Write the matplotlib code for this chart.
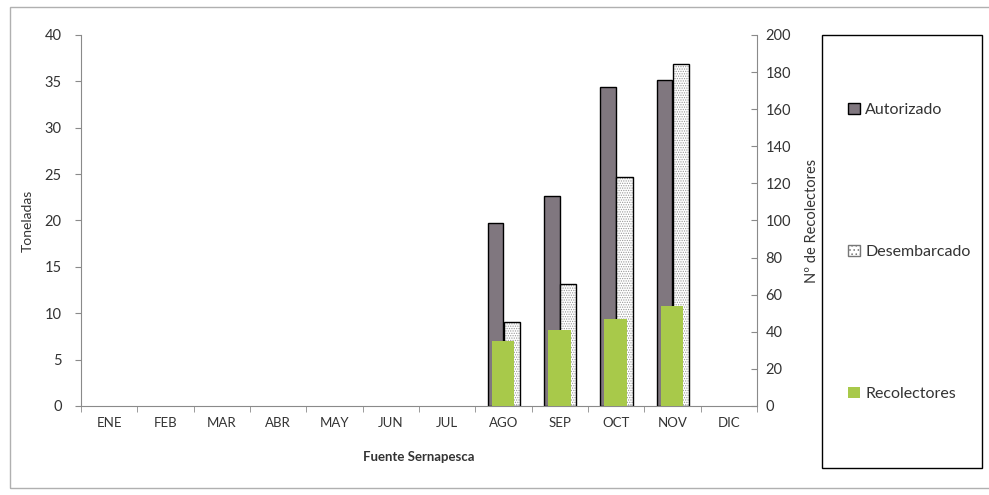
import matplotlib
matplotlib.use('Agg')
from matplotlib import pyplot as plt
from matplotlib.patches import Patch, Rectangle
import numpy as np

plt.rcParams['font.family'] = ['Lato', 'DejaVu Sans']
plt.rcParams['hatch.linewidth'] = 0.6

meses = ['ENE', 'FEB', 'MAR', 'ABR', 'MAY', 'JUN', 'JUL', 'AGO', 'SEP', 'OCT', 'NOV', 'DIC']
autorizado = [0, 0, 0, 0, 0, 0, 0, 19.7, 22.6, 34.4, 35.2, 0]
desembarcado = [0, 0, 0, 0, 0, 0, 0, 9.1, 13.2, 24.7, 36.9, 0]
recolectores = [0, 0, 0, 0, 0, 0, 0, 35, 41, 47, 54, 0]

gris = '#80777f'
verde = '#a8c94a'
eje = '#8a8a8a'
texto = '#333333'

x = np.arange(len(meses))

def sin_ceros(v):
    # excel no dibuja nada cuando el valor es 0
    v = np.array(v, dtype=float)
    return np.where(v > 0, v, np.nan)

fig = plt.figure(figsize=(9.89, 4.95), dpi=100)
ax = fig.add_axes([0.0819, 0.1798, 0.6835, 0.7495])
ax2 = ax.twinx()

# toneladas
ax.bar(x - 0.14, sin_ceros(autorizado), width=0.28, color=gris, edgecolor='black', linewidth=1.0)
ax.bar(x + 0.15, sin_ceros(desembarcado), width=0.29, color='white', edgecolor='#999999',
       hatch='.......', linewidth=0)
ax.bar(x + 0.15, sin_ceros(desembarcado), width=0.29, fill=False, edgecolor='black', linewidth=1.0)

# recolectores (eje derecho)
ax2.bar(x - 0.01, sin_ceros(recolectores), width=0.4, color=verde, linewidth=0)

ax.set_xlim(-0.5, 11.5)
ax.set_ylim(0, 40)
ax2.set_ylim(0, 200)
ax.set_yticks(np.arange(0, 41, 5))
ax2.set_yticks(np.arange(0, 201, 20))
ax.set_xticks(x)
ax.set_xticklabels(meses)
ax.set_xticks(np.arange(-0.5, 12, 1), minor=True)
ax.tick_params(axis='x', which='major', length=0, pad=8, labelsize=9.5, colors=texto)
ax.tick_params(axis='x', which='minor', length=4, direction='out', color=eje)
ax.tick_params(axis='y', length=4, direction='out', color=eje, labelsize=10.5,
               labelcolor=texto, pad=10)
ax2.tick_params(axis='y', length=4, direction='in', color=eje, labelsize=10.5,
                labelcolor=texto, pad=6)

for a in (ax, ax2):
    a.spines['top'].set_visible(False)
    for s in a.spines.values():
        s.set_color(eje)
ax.spines['right'].set_visible(False)
ax2.spines['left'].set_visible(False)
ax2.spines['bottom'].set_visible(False)

ax.set_ylabel('Toneladas', fontsize=10, color=texto, labelpad=8)
ax2.set_ylabel('Nº de Recolectores', fontsize=10.5, color=texto, labelpad=10)
ax.set_xlabel('Fuente Sernapesca', fontsize=9.5, fontweight='bold', color=texto, labelpad=16)

# marco exterior y caja de leyenda
fig.patches.append(Rectangle((10 / 989, 1 - 488 / 495), 1, (488 - 7) / 495,
                             transform=fig.transFigure, fill=False,
                             edgecolor='#b0b0b0', linewidth=1.0))
fig.patches.append(Rectangle((822 / 989, 1 - 468 / 495), 160 / 989, 433 / 495,
                             transform=fig.transFigure, fill=False,
                             edgecolor='black', linewidth=1.0))

handles = [
    Patch(facecolor=gris, edgecolor='black', label='Autorizado'),
    Patch(facecolor='white', edgecolor='#777777', hatch='....', label='Desembarcado'),
    Patch(facecolor=verde, edgecolor='none', label='Recolectores'),
]
fig.legend(handles=handles, loc='center left', bbox_to_anchor=(834 / 989, 1 - 252 / 495),
           frameon=False, fontsize=11.5, labelspacing=8.0, handlelength=0.7,
           handleheight=0.7, handletextpad=0.35, labelcolor=texto)

plt.savefig('out.png', dpi=100)
